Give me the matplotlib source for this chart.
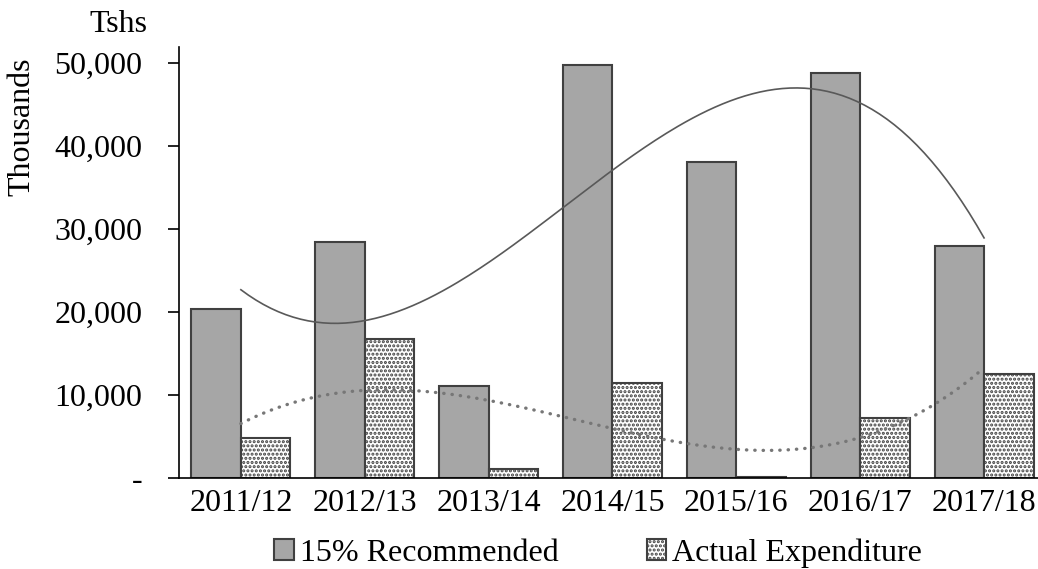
import numpy as np
import matplotlib
matplotlib.use("Agg")
import matplotlib.pyplot as plt

# values (Tshs thousands)
years = ["2011/12", "2012/13", "2013/14", "2014/15", "2015/16", "2016/17", "2017/18"]
recommended = [20300, 28400, 11100, 49800, 38100, 48800, 28000]
actual = [4800, 16800, 1100, 11500, 100, 7200, 12500]

plt.rcParams['font.family'] = ['Liberation Serif', 'DejaVu Serif']
plt.rcParams['hatch.linewidth'] = 1.5
plt.rcParams['hatch.color'] = 'black'

fig = plt.figure(figsize=(10.38, 5.69), dpi=100)
ax = fig.add_axes([0.1724, 0.160, 0.8353, 0.757])

x = np.arange(len(years))
w = 0.4
ax.bar(x - w / 2, recommended, w, color='#a6a6a6', edgecolor='#404040',
       linewidth=1.5, label='15% Recommended')
ax.bar(x + w / 2, actual, w, color='white', edgecolor='#404040',
       linewidth=1.5, hatch='....', label='Actual Expenditure')

# polynomial trendlines (order 3), as the spreadsheet draws them
xs = np.linspace(x[0], x[-1], 200)
p_rec = np.polyfit(x, recommended, 3)
p_act = np.polyfit(x, actual, 3)
ax.plot(xs, np.polyval(p_rec, xs), color='#595959', linewidth=1.2)
ax.plot(xs, np.polyval(p_act, xs), color='#777777', linewidth=2.4,
        linestyle=(0, (0.1, 2.4)), dash_capstyle='round')

ax.set_xlim(-0.5, len(years) - 0.5)
ax.set_ylim(0, 51900)
ax.set_yticks([0, 10000, 20000, 30000, 40000, 50000])
ax.set_yticklabels(['-', '10,000', '20,000', '30,000', '40,000', '50,000'])
ax.set_xticks(x)
ax.set_xticklabels(years)
ax.tick_params(axis='y', labelsize=23, length=8, width=1.2, pad=18.5)
ax.tick_params(axis='x', labelsize=23, length=0, pad=8)

for side in ['top', 'right']:
    ax.spines[side].set_visible(False)
ax.spines['left'].set_linewidth(1.2)
ax.spines['bottom'].set_linewidth(1.2)

fig.text(0.021, 0.777, 'Thousands', rotation=90, fontsize=23, ha='center', va='center')
fig.text(0.114, 0.957, 'Tshs', fontsize=23, ha='center', va='center')

ax.legend(loc='upper center', bbox_to_anchor=(0.4836, -0.11), ncol=2, frameon=False,
          fontsize=23, handlelength=0.6, handleheight=0.6, handletextpad=0.2,
          columnspacing=2.75, borderaxespad=0)

fig.savefig('out.png', dpi=100)
